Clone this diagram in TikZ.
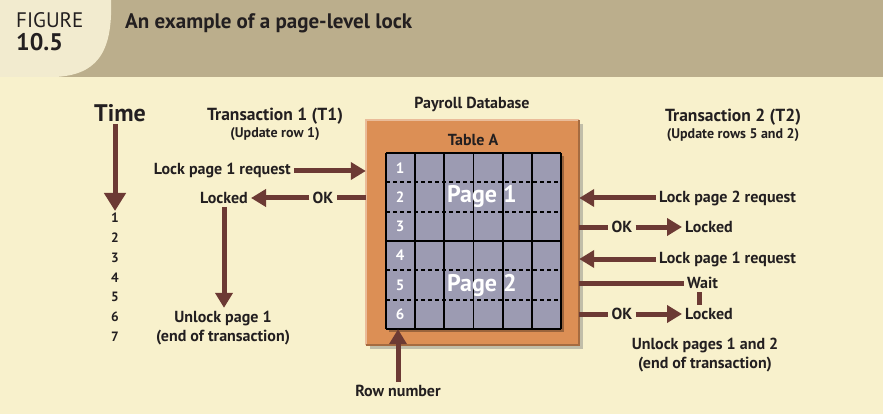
\documentclass[tikz,border=0pt]{standalone}
\usepackage{fontspec}
\setmainfont{PT Sans}
\usetikzlibrary{arrows.meta,positioning,shadows}
\definecolor{bgColor}{HTML}{F8F1CC}
\definecolor{bandColor}{HTML}{BBAE8C}
\definecolor{tabColor}{HTML}{F2EBCF}
\definecolor{penColor}{HTML}{6C3A34}
\definecolor{boxColor}{HTML}{DC8F55}
\definecolor{gridColor}{HTML}{9C9BB2}
\definecolor{inkColor}{HTML}{231F20}
\tikzset{>={Triangle[length=15pt,width=17pt]},
  lbl/.style={text=inkColor,font=\fontsize{16}{19}\selectfont\bfseries,inner sep=3pt,align=center},
  headlbl/.style={text=inkColor,font=\fontsize{17.5}{19}\selectfont\bfseries,inner sep=1pt},
  sublbl/.style={text=inkColor,font=\fontsize{14}{15}\selectfont\bfseries,inner sep=1pt},
  numlbl/.style={text=inkColor,font=\fontsize{13.5}{14}\selectfont\bfseries,inner sep=2pt},
  pagelbl/.style={text=white,font=\fontsize{24}{26}\selectfont\bfseries},
  rowlbl/.style={text=white,font=\fontsize{15}{15}\selectfont\bfseries},
  flow/.style={draw=penColor,line width=5pt},
  flowarr/.style={flow,->},
  dbbox/.style={fill=boxColor,
    drop shadow={shadow xshift=4pt,shadow yshift=-4pt,opacity=.45}},
  tablebox/.style={fill=gridColor,
    drop shadow={fill=boxColor!70!black,shadow xshift=3pt,shadow yshift=-3pt,opacity=1}},
  gridline/.style={draw=black,line width=1.8pt}}

\begin{document}
\begin{tikzpicture}[x=1pt,y=-1pt]
  \fill[bgColor] (0,0) rectangle (883,414);
  \useasboundingbox (0,0) rectangle (883,414);
  \fill[bandColor] (0,0) rectangle (883,77);
  \fill[tabColor] (0,0) -- (111,0) .. controls (113,55) and (95,75) .. (55,77) -- (0,77) -- cycle;
  \node[anchor=west,text=inkColor,font=\fontsize{21}{21}\selectfont,inner sep=0pt] (fig) at (16,20) {FIGURE};
  \node[anchor=west,text=inkColor,font=\fontsize{24}{24}\selectfont\bfseries,inner sep=0pt] (fignum) at (16,42) {10.5};
  \node[anchor=west,text=inkColor,font=\fontsize{21}{21}\selectfont\bfseries,inner sep=0pt] (title) at (125,23) {An example of a page-level lock};

  % time axis
  \node[text=inkColor,font=\fontsize{24}{24}\selectfont\bfseries,inner sep=2pt] (time) at (120,113) {Time};
  \foreach \i in {1,...,7}
    \node[numlbl] (n\i) at (115,{218+(\i-1)*19.8}) {\i};
  \draw[flow,-{Triangle[length=18pt,width=21pt]}] (time.south -| n1) -- (n1.north);

  % transaction 1
  \node[headlbl] (t1) at (275,116) {Transaction 1 (T1)};
  \node[sublbl] (upd1) at (275,134) {(Update row 1)};
  \node[lbl,anchor=east] (req1) at (294,171) {Lock page 1 request};
  \node[lbl] (ok1) at (323,198) {OK};
  \node[lbl,anchor=east] (lock1) at (251,198) {Locked};
  \node[lbl] (unl1) at (223,328) {Unlock page 1\\(end of transaction)};

  % database
  \node[lbl] (dbname) at (472,104) {Payroll Database};
  \node[dbbox,minimum width=213,minimum height=225] (db) at (472.5,232.5) {};
  \draw[boxColor!60!white,line width=1.5pt] (db.south west) -- (db.north west) -- (db.north east);
  \draw[boxColor!75!black,line width=1.5pt] (db.north east) -- (db.south east) -- (db.south west);
  \node[lbl] (tname) at (473,140) {Table A};
  \node[tablebox,minimum width=175,minimum height=176] (tbl) at (473.5,241) {};
  \foreach \c in {0,...,6}
    \draw[gridline] ({386+\c*175/6},153) -- ({386+\c*175/6},329);
  \foreach \r in {0,3,6}
    \draw[gridline] (386,{153+\r*176/6}) -- (561,{153+\r*176/6});
  \foreach \r in {1,2,4,5}
    \draw[gridline,dashed,dash pattern=on 4pt off 3pt] (386,{153+\r*176/6}) -- (561,{153+\r*176/6});
  \foreach \r in {1,...,6}
    \node[rowlbl] (row\r) at (400,{153+(\r-0.5)*176/6}) {\r};
  \node[pagelbl] (pg1) at (482,{153+1.5*176/6}) {Page 1};
  \node[pagelbl] (pg2) at (482,{153+4.5*176/6}) {Page 2};
  \node[lbl] (rownum) at (398,391) {Row number};

  % transaction 2
  \node[headlbl] (t2) at (733,117) {Transaction 2 (T2)};
  \node[sublbl] (upd2) at (733,135) {(Update rows 5 and 2)};
  \node[lbl,anchor=west] (req2) at (656,198) {Lock page 2 request};
  \node[lbl] (ok2) at (622,227) {OK};
  \node[lbl,anchor=west] (lock2) at (682,227) {Locked};
  \node[lbl,anchor=west] (req3) at (656,259) {Lock page 1 request};
  \node[lbl,anchor=west] (wait) at (684,283) {Wait};
  \node[lbl] (ok3) at (622,314) {OK};
  \node[lbl,anchor=west] (lock3) at (682,314) {Locked};
  \node[lbl] (unl2) at (705,355) {Unlock pages 1 and 2\\(end of transaction)};

  \draw[flowarr] (req1.east) -- (req1.east -| db.west);
  \draw[flow] (ok1.east -| db.west) -- (ok1.east);
  \draw[flowarr] (ok1.west) -- (lock1.east);
  \draw[flowarr] (lock1.south) -- (lock1.south |- unl1.north);
  \draw[flowarr] (rownum.north) -- (rownum.north |- tbl.south);
  \draw[flowarr] (req2.west) -- (req2.west -| db.east);
  \draw[flow] (ok2.west -| db.east) -- (ok2.west);
  \draw[flowarr] (ok2.east) -- (lock2.west);
  \draw[flowarr] (req3.west) -- (req3.west -| db.east);
  \draw[flow] (wait.west -| db.east) -- (wait.west);
  \draw[flow] ([xshift=-3pt]wait.south) -- ([xshift=-3pt]wait.south |- lock3.north);
  \draw[flow] (ok3.west -| db.east) -- (ok3.west);
  \draw[flowarr] (ok3.east) -- (lock3.west);
\end{tikzpicture}
\end{document}
